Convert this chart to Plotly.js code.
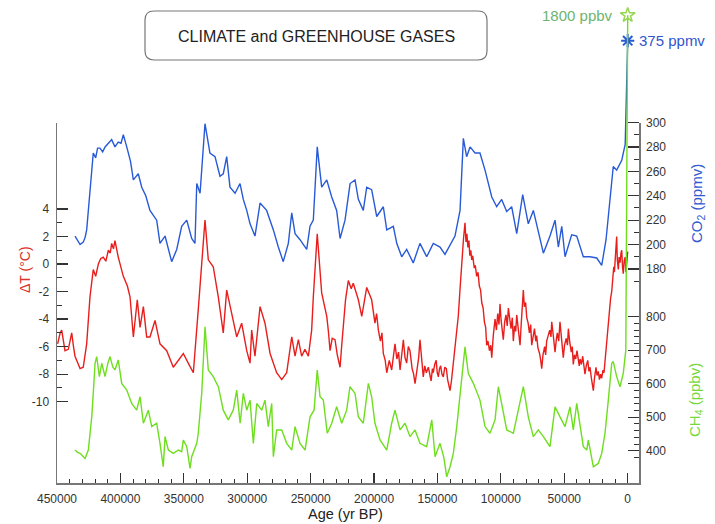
<!DOCTYPE html>
<html>
<head>
<meta charset="utf-8">
<script src="https://cdn.plot.ly/plotly-3.0.1.min.js"></script>
<style>html,body{margin:0;padding:0;background:#fff;}#chart{width:715px;height:524px;}</style>
</head>
<body>
<div id="chart"></div>
<script>
// ---------------- DATA ----------------
// CO2 (ppmv) versus age (yr BP)
const ageCO2 = [435800,433500,431800,429300,427800,426600,425300,424000,422600,421400,419500,418000,416100,414000,412100,409500,406900,404300,401700,399500,397700,395000,392000,389800,385900,383200,380000,376700,371400,368800,364800,359600,355600,351700,347700,343800,341200,339800,337200,333300,329400,325400,321500,318900,316200,313600,309600,305700,303100,300400,297800,293900,289900,284700,279400,275500,271600,267600,264900,262300,258400,253100,250500,247900,244800,241300,237300,233400,229500,226800,222900,218900,215000,212400,208500,205800,201900,197900,192700,190000,184800,182100,178200,174300,169100,163800,158500,153300,148000,144100,140100,136200,132200,129600,127000,124300,120400,116500,112500,107200,103300,99400,95400,91500,87500,82800,78400,74400,66500,61300,57300,54700,52000,49400,44200,40200,35000,29800,24400,20500,17100,14000,11400,8700,4700,2000];
const co2 = [207,203,200,202,206,212,228,238,256,275,271,279,279,276,280,283,286,280,284,283,290,280,268,253,258,247,240,228,220,201,207,186,196,215,220,205,201,250,242,299,275,272,256,258,272,247,242,250,237,228,217,207,234,228,212,198,186,201,226,209,204,196,215,220,280,247,253,239,228,205,220,250,253,237,228,247,245,223,231,212,215,201,190,196,185,201,190,201,198,192,200,207,228,287,272,280,275,275,261,239,231,237,227,231,209,241,217,228,193,207,220,198,215,190,208,207,190,190,189,183,204,237,264,261,269,282];

// Temperature anomaly ΔT (°C) versus age (yr BP)
const ageT = [
  449500,447500,446300,445000,443700,441100,439500,438400,437000,435800,
  431800,429300,426600,424000,421400,419500,417400,415500,413500,411500,
  409500,408000,406900,405500,404300,401700,397700,394500,392400,389800,
  386700,384500,381900,379300,376700,372700,368800,363500,358300,354300,
  350400,346500,342500,338600,333300,330700,326800,322800,318900,316200,
  312300,308300,304400,300400,297800,296500,293900,289900,286000,282000,
  276800,272800,268900,264900,262300,259700,257100,254500,251800,249200,
  247900,244800,241300,239500,237300,236000,234700,233000,230800,229000,
  226800,225500,224200,222500,220300,218000,216400,212400,209700,205800,
  201900,200500,199300,198000,196600,195000,193800,192700,191200,190000,
  188000,186100,184800,183500,182000,180700,179500,178000,176900,175600,
  174300,173000,171700,170000,168800,167700,166000,164800,163800,162500,
  161200,160000,158800,157200,156000,155000,154000,153300,152200,151000,
  150200,149300,148400,147500,146500,145400,144200,143000,142000,141000,
  140100,139000,137500,135500,133600,132200,130900,129500,128300,127500,
  126800,126000,125200,124500,123700,123000,122200,121000,120200,119100,
  118000,117000,116000,115100,114000,113000,112000,111200,110200,109000,
  108000,107200,106000,105200,104600,103500,102500,101500,100700,99800,
  99000,98100,97000,96000,95000,94100,93000,92000,91000,90200,
  89200,88300,87500,86500,85500,84900,84000,83200,82300,81500,
  80500,79600,78500,77500,76500,75700,74500,73500,72500,71800,
  70800,69500,68600,67800,66800,65500,64700,63900,62700,61500,
  60500,59900,58800,58000,57300,56300,55500,54400,53400,52500,
  51600,50800,49800,48500,47500,46800,45800,44500,43700,42900,
  42000,41000,40000,39000,38200,37600,36500,35500,34600,33700,
  32700,31500,30600,29700,28800,28000,27100,26200,25000,24200,
  23200,22300,21400,20500,19500,18700,17900,17000,16000,15300,
  14500,13500,12600,11800,11000,10500,9800,9200,8700,8200,
  7400,6800,6000,5300,4700,4100,3500,2800,2000,1400,
  800,0];
const temp = [
  -5.8,-5.0,-4.8,-5.6,-6.3,-6.2,-5.4,-5.0,-6.0,-6.7,
  -7.6,-7.5,-5.8,-2.4,-0.4,-0.9,0.0,0.4,0.5,0.2,
  1.0,0.8,1.5,1.1,1.7,0.5,-0.9,-1.6,-2.4,-5.3,
  -2.6,-4.6,-3.1,-5.3,-5.3,-4.1,-5.8,-6.3,-7.5,-7.0,
  -6.5,-7.2,-7.9,-3.3,3.2,0.3,-0.2,-2.4,-5.0,-1.9,
  -3.6,-5.3,-4.3,-6.3,-7.2,-4.8,-6.7,-3.1,-4.3,-6.5,
  -7.9,-8.4,-7.9,-5.3,-6.7,-5.5,-6.7,-6.2,-6.7,-4.8,
  -2.4,2.2,-2.1,-2.8,-3.8,-4.9,-6.3,-5.4,-5.5,-6.6,
  -7.5,-5.9,-4.6,-2.6,-1.2,-1.8,-1.4,-2.6,-3.8,-1.7,
  -2.6,-3.4,-4.3,-3.6,-4.8,-5.6,-5.0,-6.5,-7.0,-7.9,
  -7.0,-7.7,-6.6,-5.8,-6.9,-6.4,-7.7,-6.6,-5.5,-6.8,
  -7.2,-6.0,-6.3,-7.6,-8.0,-8.7,-7.4,-6.8,-5.5,-7.0,
  -8.2,-7.4,-7.9,-7.5,-8.1,-8.5,-7.6,-7.9,-7.3,-7.0,
  -7.9,-8.2,-7.6,-7.4,-8.0,-8.2,-7.5,-7.6,-8.4,-8.8,
  -9.2,-8.5,-7.2,-5.6,-3.8,-1.8,0.3,1.8,3.0,1.6,
  2.2,1.2,1.7,0.6,1.0,0.3,0.6,-0.3,-0.1,-0.9,
  -0.6,-1.6,-1.9,-2.8,-3.2,-4.2,-4.6,-5.9,-5.6,-6.3,
  -5.9,-6.8,-5.2,-4.6,-4.0,-4.8,-3.6,-4.4,-2.9,-4.1,
  -4.8,-5.5,-4.2,-3.7,-4.5,-3.2,-4.0,-4.7,-3.9,-5.6,
  -4.5,-4.9,-3.7,-4.6,-5.2,-5.9,-4.4,-3.2,-1.9,-3.1,
  -2.8,-3.9,-4.3,-5.0,-4.4,-5.9,-5.1,-4.7,-5.6,-5.2,
  -6.1,-6.5,-7.0,-7.6,-6.6,-6.0,-6.6,-5.6,-5.2,-4.8,
  -5.3,-4.2,-5.1,-5.7,-6.4,-5.5,-5.0,-5.6,-4.2,-5.1,
  -5.9,-6.8,-5.9,-5.4,-5.9,-4.7,-5.6,-6.4,-6.0,-7.3,
  -6.6,-6.9,-6.3,-6.8,-7.4,-6.9,-7.3,-6.7,-7.5,-8.0,
  -7.4,-7.0,-7.8,-7.5,-8.2,-8.6,-9.2,-8.3,-7.5,-8.1,
  -7.8,-8.4,-8.0,-8.3,-7.7,-7.9,-7.1,-6.3,-5.0,-4.1,
  -3.5,-2.5,-2.0,-1.0,-0.2,-0.6,0.4,1.0,2.0,0.3,
  -0.4,0.5,0.1,0.8,1.0,-0.2,-0.7,0.2,0.5,-0.6,
  -0.1,0.9];

// CH4 (ppbv) versus age (yr BP)
const ageCH4 = [435800,433800,431800,429800,427900,425300,422600,421400,420000,418700,416600,414700,412100,410000,408200,406000,404300,401700,399000,395000,391100,387200,384500,381900,378000,375300,371400,368800,366200,364800,362200,358300,354300,351700,350400,347700,345100,343800,339800,338600,335900,333300,330700,326800,322800,318900,315000,311000,308300,305600,303100,300400,297800,295200,292500,288600,286000,283400,280700,279400,276800,272800,268900,264900,262300,258400,254400,250500,247300,244800,242600,240000,236900,233400,229500,225500,221600,219000,215000,212400,208500,204500,201900,199300,195300,190000,186100,183500,179500,175600,171700,167700,163800,158500,154500,151900,148000,145000,142700,140100,137500,134800,130900,128300,125700,121700,116500,112500,108600,104600,102000,99400,95400,90200,86300,82300,78400,74400,70500,66500,61300,57300,53400,49400,45500,42900,40200,36300,35000,32300,31100,27100,23200,20500,17900,15300,12600,11400,8700,6100,3500,1500];
const ch4 = [402,395,392,385,377,402,501,571,661,681,621,661,621,660,681,650,641,671,601,581,541,521,561,482,521,472,482,422,352,442,402,392,402,397,432,412,347,382,422,452,571,770,641,621,591,521,492,521,581,482,571,521,551,422,541,521,551,472,541,382,462,462,422,402,472,422,402,501,521,641,561,551,452,482,531,482,521,591,571,501,482,601,561,482,432,402,482,521,462,482,442,462,422,412,492,382,422,380,322,352,392,472,621,710,631,601,551,472,452,492,591,541,462,452,521,591,501,442,462,442,412,531,501,472,531,462,541,432,412,402,432,352,362,392,452,551,661,666,621,591,631,700];

// Modern values (end of the record, marked with stars)
const modernAge = [0];
const co2Modern = [367];
const ch4Modern = [1700];
const co2ModernLabel = '375 ppmv';
const ch4ModernLabel = '1800 ppbv';

// Tick values and labels
const ageTicks = [450000,400000,350000,300000,250000,200000,150000,100000,50000,0];
const ageTickText = ['450000','400000','350000','300000','250000','200000','150000','100000','50000','0'];
const ageMinor = [440000,430000,420000,410000,390000,380000,370000,360000,340000,330000,320000,310000,290000,280000,270000,260000,240000,230000,220000,210000,190000,180000,170000,160000,140000,130000,120000,110000,90000,80000,70000,60000,40000,30000,20000,10000];
const tempTicks = [4,2,0,-2,-4,-6,-8,-10];
const tempTickText = ['4','2','0','-2','-4','-6','-8','-10'];
const tempMinor = [3,1,-1,-3,-5,-7,-9];
const co2Ticks = [180,200,220,240,260,280,300];
const co2TickText = ['180','200','220','240','260','280','300'];
const co2Minor = [170,190,210,230,250,270,290];
const ch4Ticks = [400,500,600,700,800];
const ch4TickText = ['400','500','600','700','800'];
const ch4Minor = [380,420,440,460,480,520,540,560,580,620,640,660,680,720,740,760,780];

// ---------------- LAYOUT GEOMETRY ----------------
const FONT = 'Liberation Sans, Arial, Helvetica, sans-serif';
const L = 57, R = 639, T = 4, B = 483, W = 715, H = 524;
const plotW = R - L, plotH = B - T;
const pxX = p => (p - L) / plotW;
const pxY = p => (B - p) / plotH;

const BLUE = 'rgb(40,90,215)';
const RED = 'rgb(232,30,28)';
const GREEN = 'rgb(110,222,30)';

// axis pixel calibration (value at a pixel row)
const tempAt = py => (264 - py) * 0.07265;
const co2At = py => 180 + (269 - py) * 0.8191;
const ch4At = py => 400 + (450.7 - py) * 2.985;

const traces = [
  {x: ageCO2.concat(modernAge), y: co2.concat(co2Modern), xaxis: 'x', yaxis: 'y2', mode: 'lines',
   line: {color: BLUE, width: 1.4}, hoverinfo: 'skip', showlegend: false},
  {x: ageCH4.concat(modernAge), y: ch4.concat(ch4Modern), xaxis: 'x', yaxis: 'y3', mode: 'lines',
   line: {color: GREEN, width: 1.4}, hoverinfo: 'skip', showlegend: false},
  {x: ageT, y: temp, xaxis: 'x', yaxis: 'y', mode: 'lines',
   line: {color: RED, width: 1.4}, hoverinfo: 'skip', showlegend: false},
  {x: modernAge, y: co2Modern, xaxis: 'x', yaxis: 'y2', mode: 'markers', cliponaxis: false,
   marker: {symbol: 'asterisk-open', size: 11, color: BLUE, line: {color: BLUE, width: 2}}, showlegend: false},
  {x: modernAge, y: ch4Modern, xaxis: 'x', yaxis: 'y3', mode: 'markers', cliponaxis: false,
   marker: {symbol: 'star-open', size: 11, color: 'rgb(150,215,80)', line: {color: 'rgb(150,215,80)', width: 1.5}}, showlegend: false}
];

const tickFont = {family: FONT, size: 12, color: '#333'};

const layout = {
  width: W, height: H,
  margin: {l: L, r: W - R, t: T, b: H - B, pad: 0},
  paper_bgcolor: '#fff', plot_bgcolor: 'rgba(0,0,0,0)',
  font: {family: FONT},
  showlegend: false,
  xaxis: {
    range: [450000, -8900], anchor: 'y', showgrid: false, zeroline: false,
    showline: true, linecolor: '#777', linewidth: 1.5,
    tickmode: 'array', tickvals: ageTicks, ticktext: ageTickText,
    ticks: 'inside', ticklen: 10, tickwidth: 1.2, tickcolor: '#333', tickfont: tickFont,
    ticklabelstandoff: 4,
    minor: {tickvals: ageMinor, ticks: 'inside', ticklen: 4, tickwidth: 1, tickcolor: '#333', showgrid: false}
  },
  yaxis: {
    domain: [0, pxY(123)], range: [tempAt(B), tempAt(123)], anchor: 'x', side: 'left',
    showgrid: false, zeroline: false, showline: true, mirror: true, linecolor: '#777', linewidth: 1.5,
    tickmode: 'array', tickvals: tempTicks, ticktext: tempTickText,
    ticks: 'inside', ticklen: 11, tickwidth: 1.2, tickcolor: '#333', tickfont: tickFont,
    ticklabelstandoff: 4,
    minor: {tickvals: tempMinor, ticks: 'inside', ticklen: 5, tickwidth: 1, tickcolor: '#333', showgrid: false}
  },
  yaxis2: {
    domain: [0, 1], range: [co2At(B), co2At(T)], anchor: 'x', side: 'right',
    showgrid: false, zeroline: false, showline: false,
    tickmode: 'array', tickvals: co2Ticks, ticktext: co2TickText,
    ticks: 'inside', ticklen: 11, tickwidth: 1.2, tickcolor: '#333', tickfont: tickFont,
    ticklabelstandoff: 6,
    minor: {tickvals: co2Minor, ticks: 'inside', ticklen: 5, tickwidth: 1, tickcolor: '#333', showgrid: false}
  },
  yaxis3: {
    overlaying: 'y2', range: [ch4At(B), ch4At(T)], anchor: 'x', side: 'right',
    showgrid: false, zeroline: false, showline: false,
    tickmode: 'array', tickvals: ch4Ticks, ticktext: ch4TickText,
    ticks: 'inside', ticklen: 11, tickwidth: 1.2, tickcolor: '#333', tickfont: tickFont,
    ticklabelstandoff: 6,
    minor: {tickvals: ch4Minor, ticks: 'inside', ticklen: 5, tickwidth: 1, tickcolor: '#333', showgrid: false}
  },
  shapes: [(function () {
    const x0 = pxX(145), x1 = pxX(487), y0 = pxY(60), y1 = pxY(11);
    const rx = 9 / plotW, ry = 9 / plotH;
    return {
      type: 'path', xref: 'paper', yref: 'paper', layer: 'above',
      line: {color: '#777', width: 1.2}, fillcolor: 'rgba(0,0,0,0)',
      path: `M ${x0 + rx},${y1} L ${x1 - rx},${y1} Q ${x1},${y1} ${x1},${y1 - ry} L ${x1},${y0 + ry} Q ${x1},${y0} ${x1 - rx},${y0} L ${x0 + rx},${y0} Q ${x0},${y0} ${x0},${y0 + ry} L ${x0},${y1 - ry} Q ${x0},${y1} ${x0 + rx},${y1} Z`
    };
  })()],
  annotations: [
    {text: 'CLIMATE and GREENHOUSE GASES', xref: 'paper', yref: 'paper', x: pxX(316), y: pxY(36),
     xanchor: 'center', yanchor: 'middle', showarrow: false, font: {family: FONT, size: 16, color: '#222'}},
    {text: 'Age (yr BP)', xref: 'paper', yref: 'paper', x: pxX(345), y: pxY(514),
     xanchor: 'center', yanchor: 'middle', showarrow: false, font: {family: FONT, size: 14.5, color: '#222'}},
    {text: 'ΔT (°C)', xref: 'paper', yref: 'paper', x: pxX(25), y: pxY(270), textangle: -90,
     xanchor: 'center', yanchor: 'middle', showarrow: false, font: {family: FONT, size: 14, color: 'rgb(220,50,40)'}},
    {text: 'CO<sub>2</sub> (ppmv)', xref: 'paper', yref: 'paper', x: pxX(697), y: pxY(204), textangle: -90,
     xanchor: 'center', yanchor: 'middle', showarrow: false, font: {family: FONT, size: 15, color: 'rgb(50,90,210)'}},
    {text: 'CH<sub>4</sub> (ppbv)', xref: 'paper', yref: 'paper', x: pxX(695), y: pxY(400), textangle: -90,
     xanchor: 'center', yanchor: 'middle', showarrow: false, font: {family: FONT, size: 15, color: 'rgb(120,215,60)'}},
    {text: co2ModernLabel, xref: 'x', yref: 'y2', x: modernAge[0], y: co2Modern[0], xanchor: 'left', yanchor: 'middle',
     xshift: 9, showarrow: false, font: {family: FONT, size: 15, color: 'rgb(50,85,205)'}},
    {text: ch4ModernLabel, xref: 'x', yref: 'y3', x: modernAge[0], y: ch4Modern[0], xanchor: 'right', yanchor: 'middle',
     xshift: -13, showarrow: false, font: {family: FONT, size: 15, color: 'rgb(110,180,110)'}}
  ]
};

Plotly.newPlot('chart', traces, layout, {staticPlot: true, displayModeBar: false});
</script>
</body>
</html>
